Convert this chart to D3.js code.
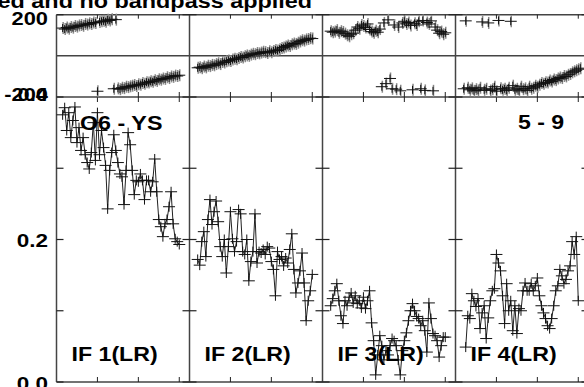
<!DOCTYPE html>
<html><head><meta charset="utf-8">
<script src="https://cdn.jsdelivr.net/npm/d3@7"></script>
<style>html,body{margin:0;padding:0;background:#fff;overflow:hidden}</style>
</head><body>
<svg id="chart" width="584" height="387"></svg>
<script>
// ---- data ----
const title = "ed and no bandpass applied";
const baselineLabel = "O6 - YS";
const timeLabel = "5 - 9";
const ifLabels = ["IF 1(LR)", "IF 2(LR)", "IF 3(LR)", "IF 4(LR)"];
const ampTicks = [0.0, 0.2, 0.4];
const ampMinorTicks = [0.1, 0.3];
const ampTickLabels = ["0.0", "0.2", "0.4"];
const phaseTickLabels = ["200", "-200"];
const channelTicks = [20, 40, 60];
const ampFirstChannel = [3, 4, 4, 5];
const phaseFirstChannel = [3, 4, 4, 4];

const amp1 = [0.375,0.385,0.353,0.378,0.343,0.367,0.386,0.336,0.357,0.325,0.343,0.319,0.308,0.299,0.322,0.364,0.311,0.378,0.319,0.353,0.329,0.304,0.243,0.297,0.322,0.347,0.325,0.308,0.292,0.288,0.249,0.297,0.350,0.333,0.297,0.263,0.283,0.281,0.292,0.283,0.256,0.283,0.283,0.267,0.281,0.313,0.267,0.228,0.218,0.204,0.222,0.228,0.246,0.267,0.222,0.201,0.197,0.193];
const amp2 = [0.172,0.164,0.197,0.211,0.176,0.228,0.256,0.221,0.239,0.254,0.225,0.190,0.176,0.200,0.153,0.190,0.239,0.201,0.183,0.197,0.242,0.236,0.183,0.179,0.200,0.142,0.169,0.183,0.236,0.167,0.183,0.181,0.186,0.179,0.190,0.188,0.169,0.158,0.121,0.183,0.172,0.176,0.163,0.174,0.167,0.186,0.208,0.158,0.125,0.139,0.156,0.181,0.139,0.086,0.114,0.128,0.151];
const amp3 = [0.107,0.117,0.128,0.138,0.114,0.093,0.082,0.114,0.107,0.119,0.125,0.111,0.121,0.110,0.114,0.104,0.119,0.103,0.114,0.128,0.083,0.058,0.010,0.038,0.065,0.051,0.031,0.044,0.038,0.051,0.061,0.058,0.051,0.031,0.010,0.044,0.058,0.069,0.086,0.100,0.110,0.100,0.092,0.089,0.079,0.086,0.072,0.042,0.111,0.089,0.068,0.065,0.058,0.035,0.051,0.063,0.063];
const amp4 = [0.049,0.093,0.089,0.124,0.114,0.106,0.117,0.075,0.097,0.107,0.061,0.090,0.114,0.128,0.131,0.179,0.167,0.156,0.121,0.082,0.138,0.100,0.114,0.072,0.107,0.068,0.103,0.100,0.128,0.139,0.128,0.128,0.138,0.128,0.135,0.146,0.121,0.107,0.097,0.089,0.079,0.075,0.089,0.107,0.128,0.135,0.158,0.149,0.138,0.144,0.156,0.163,0.197,0.179,0.204,0.114];

const phase1 = [135,130,138,132,140,137,145,142,148,150,146,155,152,158,155,162,160,-172,165,168,170,166,175,172,178,-160,176,-158,-162,-155,-157,-150,-152,-148,-145,-142,-146,-138,-140,-132,-136,-128,-130,-124,-126,-118,-122,-114,-116,-110,-112,-104,-108,-100,-102,-96,-98,-94];
const phase2 = [-58,-55,-60,-52,-56,-48,-50,-44,-46,-40,-36,-40,-30,-32,-26,-22,-25,-18,-14,-16,-10,-6,-8,-2,2,0,6,10,8,14,12,16,20,18,14,22,18,24,28,26,32,38,40,46,50,48,56,60,58,64,70,76,74,80,82,86,84];
const phase3 = [120,115,118,125,112,120,116,108,100,95,105,110,125,140,132,150,145,138,155,128,118,112,122,115,130,-150,160,-135,175,-110,-160,150,-162,140,-170,160,168,155,162,148,-165,158,150,168,-160,172,-168,162,155,170,-170,140,125,110,118,105,112];
const phase4 = [-160,170,-155,-165,-158,-170,-162,-168,-155,165,-165,-160,160,-168,-162,-150,-172,172,-158,-165,-160,-168,-155,168,-145,-165,-160,-170,-150,-162,-158,-168,-150,-160,-155,-145,-150,-140,-132,-135,-128,-130,-120,-125,-115,-118,-110,-105,-108,-98,-100,-92,-88,-80,-75,-70,-65,-60];

const ampSeries = [amp1, amp2, amp3, amp4];
const phaseSeries = [phase1, phase2, phase3, phase4];

// ---- layout ----
const svg = d3.select("#chart");
const FONT = "'Liberation Sans', Arial, Helvetica, sans-serif";
const left = 56.5, panelW = 133;
const yAmp = d3.scaleLinear().domain([0, 0.4]).range([382, 97]);
const yPh = d3.scaleLinear().domain([-200, 200]).range([97, 14.7]);
const xScales = ifLabels.map((_, i) => d3.scaleLinear().domain([0, 65]).range([left + i * panelW, left + (i + 1) * panelW]));
const frameColor = "#444";

const g = svg.append("g");

// frame lines
const xEnd = left + 4 * panelW;
[yPh(200), yPh(0), yAmp(0.4), yAmp(0)].forEach(y => {
  g.append("line").attr("x1", left).attr("x2", xEnd).attr("y1", y).attr("y2", y)
    .attr("stroke", frameColor).attr("stroke-width", 1.5);
});
for (let i = 0; i <= 4; i++) {
  const x = left + i * panelW;
  g.append("line").attr("x1", x).attr("x2", x).attr("y1", yPh(200)).attr("y2", yAmp(0))
    .attr("stroke", frameColor).attr("stroke-width", 1.5);
}

// y ticks on each panel boundary
const allAmpTicks = ampTicks.concat(ampMinorTicks);
for (let i = 0; i <= 4; i++) {
  const x = left + i * panelW;
  const l = i === 0 ? 0 : 7, r = i === 4 ? 0 : 7;
  allAmpTicks.forEach(v => {
    g.append("line").attr("x1", x - l).attr("x2", x + r).attr("y1", yAmp(v)).attr("y2", yAmp(v))
      .attr("stroke", "#222").attr("stroke-width", 1.2);
  });
  g.append("line").attr("x1", x - l).attr("x2", x + r).attr("y1", yPh(200)).attr("y2", yPh(200))
    .attr("stroke", "#222").attr("stroke-width", 1.2);
}

// x ticks (channels) per panel
xScales.forEach(xs => {
  channelTicks.forEach(c => {
    const x = xs(c);
    g.append("line").attr("x1", x).attr("x2", x).attr("y1", yPh(200)).attr("y2", yPh(200) + 4)
      .attr("stroke", "#222").attr("stroke-width", 1);
    g.append("line").attr("x1", x).attr("x2", x).attr("y1", yAmp(0.4) - 5).attr("y2", yAmp(0.4) + 5)
      .attr("stroke", "#222").attr("stroke-width", 1);
    g.append("line").attr("x1", x).attr("x2", x).attr("y1", yAmp(0) - 5).attr("y2", yAmp(0))
      .attr("stroke", "#222").attr("stroke-width", 1);
  });
});

// amplitude series: line + crosses
ampSeries.forEach((arr, i) => {
  const xs = xScales[i];
  const pts = arr.map((v, k) => [xs(ampFirstChannel[i] + k), yAmp(v)]);
  g.append("path").attr("d", d3.line()(pts)).attr("fill", "none")
    .attr("stroke", "#222").attr("stroke-width", 1);
  const cr = g.append("g").attr("stroke", "#111").attr("stroke-width", 1);
  pts.forEach(([x, y]) => {
    cr.append("line").attr("x1", x - 6).attr("x2", x + 6).attr("y1", y).attr("y2", y);
    cr.append("line").attr("x1", x).attr("x2", x).attr("y1", y - 5).attr("y2", y + 5);
  });
});

// phase series: crosses only
phaseSeries.forEach((arr, i) => {
  const xs = xScales[i];
  const pts = arr.map((v, k) => [xs(phaseFirstChannel[i] + k), yPh(v)]);
  const gr = g.append("g").attr("stroke", "#888").attr("stroke-width", 1.5);
  pts.forEach(([x, y]) => {
    gr.append("line").attr("x1", x + 0.5).attr("x2", x + 0.5).attr("y1", y - 6).attr("y2", y + 6);
  });
  const cr = g.append("g").attr("stroke", "#111").attr("stroke-width", 1);
  pts.forEach(([x, y]) => {
    cr.append("line").attr("x1", x - 6).attr("x2", x + 6).attr("y1", y).attr("y2", y);
    cr.append("line").attr("x1", x).attr("x2", x).attr("y1", y - 4).attr("y2", y + 4);
  });
});

// texts (bold sans, horizontally widened like the plotting font)
const txt = (s, x, y, size, sx, anchor) => svg.append("text").text(s)
  .attr("transform", `translate(${x},${y}) scale(${sx},1)`)
  .attr("text-anchor", anchor || "start")
  .attr("font-family", FONT).attr("font-weight", "bold").attr("font-size", size).attr("fill", "#000");

txt(title, 312, 8, 20, 1.17, "end");
txt(phaseTickLabels[0], 48, 25, 17.5, 1.25, "end");
txt(phaseTickLabels[1], 48, 101, 17.5, 1.25, "end");
txt(ampTickLabels[2], 48, 101, 17.5, 1.25, "end");
txt(ampTickLabels[1], 48, yAmp(0.2) + 7.5, 18, 1.25, "end");
txt(ampTickLabels[0], 48, yAmp(0) + 7.5, 18, 1.25, "end");
txt(baselineLabel, 80, 130, 21, 1.11);
txt(timeLabel, 518, 129, 21, 1.1);
ifLabels.forEach((s, i) => txt(s, left + i * panelW + 15, 361, 20.5, 1.13));
</script>
</body></html>
